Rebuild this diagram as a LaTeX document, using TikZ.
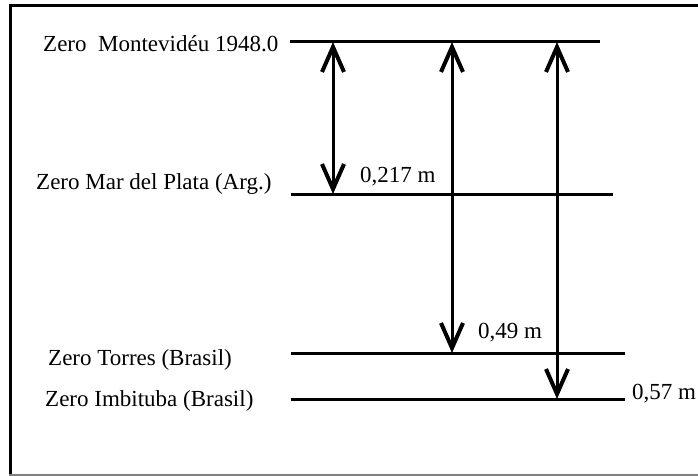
\documentclass[tikz,border=0pt]{standalone}
\usepackage{fontspec}
\setmainfont{Liberation Serif}
\usetikzlibrary{arrows.meta}
\tikzset{
  lvl/.style={line width=3pt},
  lbl/.style={anchor=base west, inner sep=0pt, font=\fontsize{23}{27}\selectfont},
  barb/.tip={Straight Barb[length=25pt,width=22pt,line width=4pt]},
  dim/.style={line width=3pt, barb-barb},
  frame/.style={line width=3.5pt},
}
\begin{document}
\begin{tikzpicture}[x=1pt,y=-1pt]
\useasboundingbox (0,0) rectangle (698,476);
% frame
\coordinate (ftl) at (10.5,5.5);
\coordinate (ftr) at (698,5.5);
\coordinate (fbl) at (10.5,476);
\coordinate (bbl) at (9,475);
\coordinate (bbr) at (698,475);
\draw[frame] (ftr) -- (ftl) -- (fbl);
\draw[line width=1.5pt, gray] (bbl) -- (bbr);
% level lines
\coordinate (m0) at (290,42);  \coordinate (m1) at (600,42);
\coordinate (p0) at (291,194); \coordinate (p1) at (613,194);
\coordinate (t0) at (291,353); \coordinate (t1) at (625,353);
\coordinate (i0) at (291,399); \coordinate (i1) at (625,399);
\draw[lvl] (m0) -- (m1);
\draw[lvl] (p0) -- (p1);
\draw[lvl] (t0) -- (t1);
\draw[lvl] (i0) -- (i1);
% arrows
\coordinate (a1t) at (333,42);  \coordinate (a1b) at (333,194);
\coordinate (a2t) at (452,42);  \coordinate (a2b) at (452,353);
\coordinate (a3t) at (557,42);  \coordinate (a3b) at (557,399);
\draw[dim] (a1t) -- (a1b);
\draw[dim] (a2t) -- (a2b);
\draw[dim] (a3t) -- (a3b);
% labels
\node[lbl] (lm) at (43,52) {Zero\ \ Montevidéu 1948.0};
\node[lbl] (lp) at (36,189) {Zero Mar del Plata (Arg.)};
\node[lbl] (lt) at (48,365) {Zero Torres (Brasil)};
\node[lbl] (li) at (45,406) {Zero Imbituba (Brasil)};
\node[lbl] (d1) at (360,182) {0,217 m};
\node[lbl] (d2) at (478,338) {0,49 m};
\node[lbl] (d3) at (632,399) {0,57 m};
\end{tikzpicture}
\end{document}
